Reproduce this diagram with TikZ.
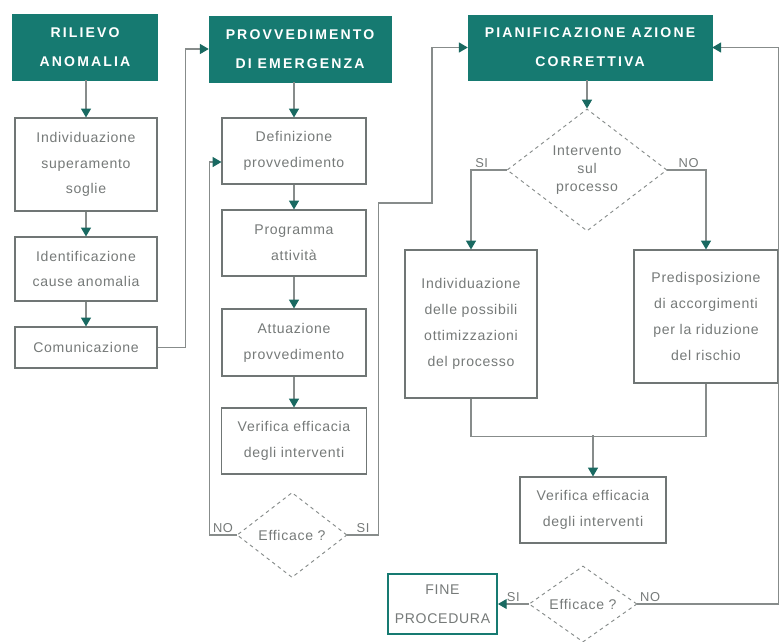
\documentclass[tikz,border=0pt]{standalone}
\usepackage{fontspec}
\setmainfont{Liberation Sans}
\newfontfamily\bodyfont[LetterSpace=5]{Liberation Sans}
\newfontfamily\hdrfont[LetterSpace=15]{Liberation Sans}
\usetikzlibrary{shapes.geometric, arrows.meta}
\definecolor{hdrteal}{RGB}{22,122,113}
\definecolor{arrteal}{RGB}{25,105,97}
\definecolor{txtgray}{RGB}{118,122,121}
\definecolor{boxgray}{RGB}{112,118,117}
\definecolor{linegray}{RGB}{135,140,139}

\begin{document}
\begin{tikzpicture}[x=0.3mm, y=-0.3mm,
    hdr/.style={fill=hdrteal, draw=hdrteal, text=white, align=center, inner sep=0pt,
        font={\hdrfont\bfseries\fontsize{12}{25}\selectfont}},
    box/.style={draw=boxgray, line width=0.9pt, fill=white, text=txtgray, align=center, inner sep=0pt,
        font={\bodyfont\fontsize{12}{22}\selectfont}},
    ask/.style={diamond, draw=linegray, dashed, line width=0.8pt, text=txtgray, align=center, inner sep=0pt,
        font={\bodyfont\fontsize{12}{15.5}\selectfont}},
    conn/.style={draw=linegray, line width=0.9pt},
    arr/.style={conn, -{Triangle[color=arrteal, length=7.5pt, width=8.5pt]}},
    lbl/.style={text=txtgray, inner sep=1.5pt, font={\bodyfont\fontsize{11}{11}\selectfont}}]
    \useasboundingbox (0,0) rectangle (781,641);

    \node[hdr, minimum width=43.5mm, minimum height=19.8mm] (h1) at (85,47) {RILIEVO\\ANOMALIA};
    \node[hdr, minimum width=54.6mm, minimum height=19.8mm] (h2) at (300,49) {PROVVEDIMENTO\\DI EMERGENZA};
    \node[hdr, minimum width=73.2mm, minimum height=19.5mm] (h3) at (590,47.5) {PIANIFICAZIONE AZIONE\\CORRETTIVA};

    \node[box, minimum width=42.6mm, minimum height=27.9mm] (b1) at (86,164.5) {Individuazione\\superamento\\soglie};
    \node[box, minimum width=42.6mm, minimum height=19.2mm] (b2) at (86,269) {Identificazione\\cause anomalia};
    \node[box, minimum width=42.6mm, minimum height=12.3mm] (b3) at (86,347.5) {Comunicazione};

    \node[box, minimum width=43.2mm, minimum height=19.8mm] (m1) at (294,151) {Definizione\\provvedimento};
    \node[box, minimum width=43.2mm, minimum height=19.8mm] (m2) at (294,243) {Programma\\attività};
    \node[box, minimum width=43.2mm, minimum height=20.1mm] (m3) at (294,342.5) {Attuazione\\provvedimento};
    \node[box, minimum width=43.5mm, minimum height=19.8mm] (m4) at (294,441) {Verifica efficacia\\degli interventi};
    \node[ask, aspect=1.3, minimum width=33mm, minimum height=25.5mm] (d1) at (292,535) {Efficace ?};

    \node[ask, aspect=1.3, minimum width=48mm, minimum height=36.6mm] (d2) at (587,170) {Intervento\\sul\\processo};
    \node[box, minimum width=39.6mm, minimum height=44.4mm] (r1) at (471,324) {Individuazione\\delle possibili\\ottimizzazioni\\del processo};
    \node[box, minimum width=43.2mm, minimum height=39.9mm] (r2) at (706,316.5) {Predisposizione\\di accorgimenti\\per la riduzione\\del rischio};
    \node[box, minimum width=43.8mm, minimum height=19.8mm] (v2) at (593,510) {Verifica efficacia\\degli interventi};
    \node[ask, aspect=1.4, minimum width=32.4mm, minimum height=22.8mm] (d3) at (583,604) {Efficace ?};
    \node[box, draw=hdrteal, line width=1.6pt, minimum width=32.7mm, minimum height=18mm,
        font={\bodyfont\fontsize{12}{25}\selectfont}] (fine) at (442.5,604) {FINE\\PROCEDURA};

    \draw[arr] (h1.south -| b1) -- (b1);
    \draw[arr] (b1) -- (b2);
    \draw[arr] (b2) -- (b3);
    \draw[arr] (b3.east) -- ++(28,0) |- (h2.west);

    \draw[arr] (h2.south -| m1) -- (m1);
    \draw[arr] (m1) -- (m2);
    \draw[arr] (m2) -- (m3);
    \draw[arr] (m3) -- (m4);
    \draw[arr] (d1.west) -- node[lbl, above] {NO} ++(-27,0) |- ([yshift=-3.3mm]m1.west);
    \draw[arr] (d1.east) -- node[lbl, above] {SI} ++(31,0) |- (432,203) |- (h3.west);

    \draw[arr] (h3.south -| d2) -- (d2);
    \draw[arr] (d2.west) -- node[lbl, above, pos=0.7] {SI} (d2.west -| r1) -- (r1);
    \draw[arr] (d2.east) -- node[lbl, above, pos=0.55] {NO} (d2.east -| r2) -- (r2);
    \draw[conn] (r1.south) -- ++(0,38) -| (r2.south);
    \draw[arr] (v2.north) ++(0,-41) -- (v2);

    \draw[arr] (d3.west) -- node[lbl, above] {SI} (fine.east);
    \draw[arr] (d3.east) -- node[lbl, above, pos=0.09] {NO} ++(141,0) |- (h3.east);
\end{tikzpicture}
\end{document}
